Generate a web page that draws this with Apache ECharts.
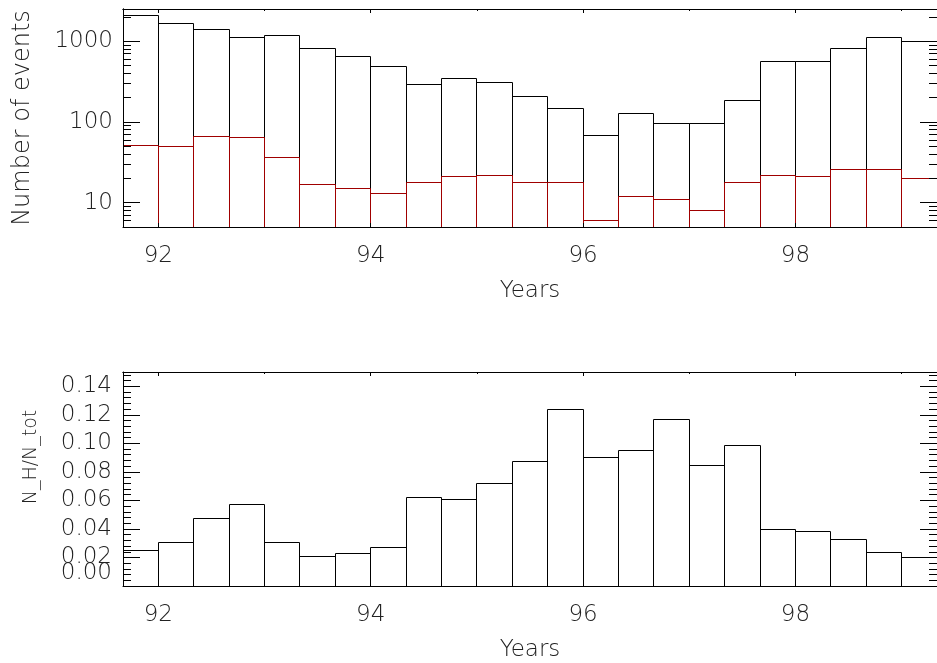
<!DOCTYPE html>
<html>
<head>
<meta charset="utf-8">
<script src="https://cdn.jsdelivr.net/npm/echarts@6/dist/echarts.min.js"></script>
<style>
html,body{margin:0;padding:0;background:#fff;}
#chart{width:937px;height:663px;}
</style>
</head>
<body>
<div id="chart"></div>
<script>
// ---- data ----
const yearEdges = [91.667, 92.000, 92.333, 92.667, 93.000, 93.333, 93.667, 94.000,
  94.333, 94.667, 95.000, 95.333, 95.667, 96.000, 96.333, 96.667, 97.000, 97.333,
  97.667, 98.000, 98.333, 98.667, 99.000, 99.333];
const totalEvents = [2085, 1645, 1410, 1121, 1188, 819, 651, 481, 292, 347, 309, 207,
  147, 67, 128, 95, 95, 185, 560, 560, 805, 1102, 1000];
const hardEvents = [51, 49, 66, 64, 36, 17, 15, 13, 18, 21, 22, 18, 18, 6, 12, 11, 8,
  18, 22, 21, 26, 26, 20];
const hardFraction = [0.0250, 0.0302, 0.0472, 0.0574, 0.0304, 0.0206, 0.0225, 0.0271,
  0.0620, 0.0609, 0.0721, 0.0872, 0.1235, 0.0902, 0.0951, 0.1165, 0.0848, 0.0986,
  0.0397, 0.0381, 0.0323, 0.0234, 0.0197];
const yearMajorTicks = [92, 94, 96, 98];
const yearMinorTicks = [93, 95, 97, 99];
const yearLabels = [92, 94, 96, 98];
const countLabels = [10, 100, 1000];
const countMinorTicks = [5, 6, 7, 8, 9, 20, 30, 40, 50, 60, 70, 80, 90,
  200, 300, 400, 500, 600, 700, 800, 900, 2000];
const fracLabels = [0.02, 0.04, 0.06, 0.08, 0.10, 0.12, 0.14];
const fracZeroLabel = [0.00];

// ---- chart ----
const FONT = 'DejaVu Sans';
const TXT = '#222';
const yearMin = yearEdges[0], yearMax = yearEdges[yearEdges.length - 1];
const countMin = 5, countMax = 2500;

function rows(vals) {
  return vals.map((v, i) => [yearEdges[i], yearEdges[i + 1], v]);
}
function crisp(v) { return Math.round(v - 0.5) + 0.5; }
function histItem(base, color) {
  return function (params, api) {
    const x0 = api.value(0), x1 = api.value(1), v = api.value(2);
    const pTop0 = api.coord([x0, v]);
    const pTop1 = api.coord([x1, v]);
    const pBase = api.coord([x0, base]);
    const xa = crisp(pTop0[0]), xb = crisp(pTop1[0]);
    const yt = crisp(pTop0[1]), yb = pBase[1];
    return {
      type: 'polyline',
      shape: { points: [[xa, yb], [xa, yt], [xb, yt], [xb, yb]] },
      style: { fill: null, stroke: color, lineWidth: 1 }
    };
  };
}

function xAxesFor(gridIndex) {
  const common = {
    gridIndex, type: 'value', min: yearMin, max: yearMax, z: 5,
    splitLine: { show: false },
    axisLine: { show: true, onZero: false, lineStyle: { color: '#000', width: 1 } }
  };
  return [
    Object.assign({}, common, {
      position: 'bottom',
      name: 'Years', nameLocation: 'middle', nameGap: 53,
      nameTextStyle: { fontFamily: FONT, fontSize: 23, color: TXT, fontWeight: 200 },
      axisTick: { show: true, inside: true, length: 4, customValues: yearMajorTicks, lineStyle: { color: '#000' } },
      axisLabel: { show: true, customValues: yearLabels, margin: 18, fontFamily: FONT, fontSize: 23,
        color: TXT, fontWeight: 200, formatter: v => String(Math.round(v)) }
    }),
    Object.assign({}, common, {
      position: 'top',
      axisTick: { show: true, inside: true, length: 4, customValues: yearMajorTicks, lineStyle: { color: '#000' } },
      axisLabel: { show: false }
    }),
    Object.assign({}, common, {
      position: 'top',
      axisTick: { show: true, inside: true, length: 2, customValues: yearMinorTicks, lineStyle: { color: '#000' } },
      axisLabel: { show: false }
    })
  ];
}

const logCommon = {
  gridIndex: 0, type: 'log', logBase: 10, min: countMin, max: countMax, z: 5,
  splitLine: { show: false }, minorTick: { show: false },
  axisLine: { show: true, lineStyle: { color: '#000', width: 1 } }
};
const linCommon = {
  gridIndex: 1, type: 'value', min: 0, max: 0.15, interval: 0.02, z: 5,
  splitLine: { show: false },
  axisLine: { show: true, onZero: false, lineStyle: { color: '#000', width: 1 } }
};

const option = {
  animation: false,
  backgroundColor: '#fff',
  textStyle: { fontFamily: FONT },
  grid: [
    { left: 123, top: 9, width: 818, height: 218, containLabel: false },
    { left: 123, top: 372, width: 818, height: 217, containLabel: false }
  ],
  xAxis: [].concat(xAxesFor(0), xAxesFor(1)),
  yAxis: [
    // top panel (log)
    Object.assign({}, logCommon, {
      position: 'left',
      name: 'Number of events', nameLocation: 'middle', nameGap: 88,
      nameTextStyle: { fontFamily: FONT, fontSize: 24, color: TXT, fontWeight: 200 },
      axisTick: { show: true, inside: true, length: 17, customValues: countLabels, lineStyle: { color: '#000' } },
      axisLabel: { show: true, customValues: countLabels, margin: 10, fontFamily: FONT, fontSize: 23,
        color: TXT, fontWeight: 200, formatter: v => String(Math.round(v)) }
    }),
    Object.assign({}, logCommon, {
      position: 'left',
      axisTick: { show: true, inside: true, length: 8, customValues: countMinorTicks, lineStyle: { color: '#000' } },
      axisLabel: { show: false }
    }),
    Object.assign({}, logCommon, {
      position: 'right',
      axisTick: { show: true, inside: true, length: 17, customValues: countLabels, lineStyle: { color: '#000' } },
      axisLabel: { show: false }
    }),
    Object.assign({}, logCommon, {
      position: 'right',
      axisTick: { show: true, inside: true, length: 8, customValues: countMinorTicks, lineStyle: { color: '#000' } },
      axisLabel: { show: false }
    }),
    // bottom panel (linear)
    Object.assign({}, linCommon, {
      position: 'left',
      name: 'N_H/N_tot', nameLocation: 'middle', nameGap: 82,
      nameTextStyle: { fontFamily: FONT, fontSize: 19, color: TXT, fontWeight: 200, padding: [0, 0, 0, 44] },
      axisTick: { show: true, inside: true, length: 17, lineStyle: { color: '#000' } },
      minorTick: { show: true, splitNumber: 5, length: 8, lineStyle: { color: '#000' } },
      axisLabel: { show: true, customValues: fracLabels, margin: 11, fontFamily: FONT, fontSize: 23,
        color: TXT, fontWeight: 200, formatter: v => v.toFixed(2) }
    }),
    Object.assign({}, linCommon, {
      position: 'right',
      axisTick: { show: true, inside: true, length: 17, lineStyle: { color: '#000' } },
      minorTick: { show: true, splitNumber: 5, length: 8, lineStyle: { color: '#000' } },
      axisLabel: { show: false }
    }),
    // label "0.00" (raised, as in the original)
    Object.assign({}, linCommon, {
      position: 'left',
      axisLine: { show: false }, axisTick: { show: false },
      axisLabel: { show: true, showMinLabel: true, customValues: fracZeroLabel, margin: 11,
        formatter: v => '{z|' + v.toFixed(2) + '}',
        rich: { z: { fontFamily: FONT, fontSize: 23, color: TXT, fontWeight: 200, padding: [0, 0, 26, 0] } } }
    })
  ],
  series: [
    { type: 'custom', xAxisIndex: 0, yAxisIndex: 0, z: 2, clip: false,
      renderItem: histItem(countMin, '#000'), data: rows(totalEvents) },
    { type: 'custom', xAxisIndex: 0, yAxisIndex: 0, z: 3, clip: false,
      renderItem: histItem(countMin, '#a00000'), data: rows(hardEvents) },
    { type: 'custom', xAxisIndex: 3, yAxisIndex: 4, z: 2, clip: false,
      renderItem: histItem(0, '#000'), data: rows(hardFraction) }
  ]
};

const chart = echarts.init(document.getElementById('chart'), null, { renderer: 'canvas' });
chart.setOption(option);
</script>
</body>
</html>
